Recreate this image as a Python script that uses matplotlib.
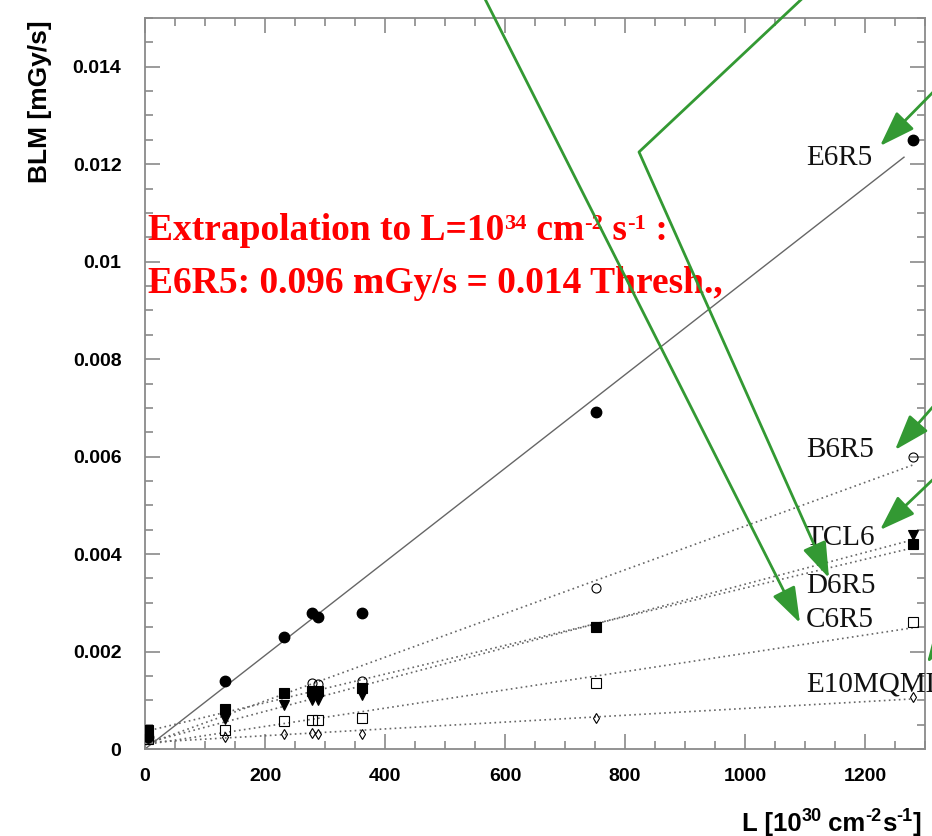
import numpy as np
import matplotlib
matplotlib.use("Agg")
import matplotlib.pyplot as plt
from matplotlib.patches import FancyArrowPatch
from matplotlib.path import Path
from matplotlib.ticker import MultipleLocator, FixedLocator, FixedFormatter

# ---- data: luminosity L [1e30 cm^-2 s^-1] and BLM dose rate [mGy/s] ----
lumi = [5, 133, 232, 279, 289, 361, 752, 1280]

e6r5 = [0.00025, 0.0014, 0.00229, 0.0028, 0.0027, 0.0028, 0.00692, 0.0125]
b6r5 = [0.0003, 0.0008, 0.00115, 0.00136, 0.00134, 0.0014, 0.0033, 0.0060]
d6r5 = [0.0004, 0.00082, 0.00115, 0.00118, 0.00118, 0.00125, 0.0025, 0.0042]
tcl6 = [0.0003, 0.00062, 0.0009, 0.0010, 0.0010, 0.0011, 0.0025, 0.0044]
c6r5 = [0.0002, 0.00038, 0.00057, 0.0006, 0.0006, 0.00064, 0.00136, 0.0026]
e10mqml = [0.0002, 0.00025, 0.0003, 0.00033, 0.00031, 0.0003, 0.00063, 0.00107]

# extrapolation of E6R5 to L = 1e34 cm^-2 s^-1 (= 1e4 in plot units)
L_extrap = 10000
e6r5_extrap = 0.096
e6r5_fit_end = 1265

x_ticks = [0, 200, 400, 600, 800, 1000, 1200]
y_ticks = [0, 0.002, 0.004, 0.006, 0.008, 0.010, 0.012, 0.014]
y_tick_labels = ["0", "0.002", "0.004", "0.006", "0.008", "0.01", "0.012", "0.014"]

W, H = 932, 836
fig = plt.figure(figsize=(W / 100, H / 100), dpi=100)
ax = fig.add_axes([145 / W, 1 - 749 / H, 780 / W, 731 / H])
renderer = fig.canvas.get_renderer()

frame_col = "#8a8a8a"
line_col = "#666666"

# marker series: (values, marker, filled, size)
series = [
    (b6r5, "o", False, 6.5),
    (c6r5, "s", False, 6.5),
    (e10mqml, "d", False, 5.5),
    (d6r5, "s", True, 6.5),
    (tcl6, "v", True, 7),
]

x = np.array(lumi, dtype=float)

# dotted linear fits
for vals, m, filled, ms in series:
    p = np.polyfit(x, np.array(vals), 1)
    xf = np.array([0, x.max()])
    ax.plot(xf, np.polyval(p, xf), ls=(0, (1.0, 2.0)), lw=1.2, color=line_col, zorder=2)

# E6R5 fit through origin, slope fixed by the extrapolated value
xf = np.array([0, e6r5_fit_end])
ax.plot(xf, xf * e6r5_extrap / L_extrap, ls="-", lw=1.0, color=line_col, zorder=2)

for vals, m, filled, ms in series:
    ax.plot(x, vals, ls="none", marker=m, ms=ms,
            mfc="black" if filled else "none", mec="black",
            mew=0.8, zorder=3)
ax.plot(x, e6r5, ls="none", marker="o", ms=7.5, mfc="black", mec="black", zorder=4)

ax.set_xlim(0, 1300)
ax.set_ylim(0, 0.015)
ax.xaxis.set_major_locator(FixedLocator(x_ticks))
ax.xaxis.set_minor_locator(MultipleLocator(50))
ax.yaxis.set_major_locator(FixedLocator(y_ticks))
ax.yaxis.set_major_formatter(FixedFormatter(y_tick_labels))
ax.yaxis.set_minor_locator(MultipleLocator(0.0005))

for s in ax.spines.values():
    s.set_color(frame_col)
    s.set_linewidth(1.3)
ax.tick_params(which="both", direction="in", top=True, right=True,
               color=frame_col, width=1.2)
ax.tick_params(which="major", length=11)
ax.tick_params(which="minor", length=5.5)
ax.tick_params(axis="x", which="major", pad=14)
ax.tick_params(axis="y", which="major", pad=17)
for lab in ax.get_xticklabels() + ax.get_yticklabels():
    lab.set_fontfamily("Liberation Sans")
    lab.set_fontweight("bold")
    lab.set_fontsize(14)


def rich_text(x0, y_base, pieces, size, sup_scale, sup_rise, align="left", **kw):
    """Draw text with superscripts from (text, is_superscript) pieces.
    x0, y_base are in pixels measured from the top-left corner."""
    artists = []
    xcur = 0.0
    for txt, sup in pieces:
        fs = size * sup_scale if sup else size
        rise = sup_rise if sup else 0
        t = fig.text(0, 0, txt, fontsize=fs, ha="left", va="baseline", **kw)
        w = t.get_window_extent(renderer).width
        artists.append((t, xcur, rise))
        xcur += w
    start = x0 if align == "left" else x0 - xcur
    for t, off, rise in artists:
        t.set_position(((start + off) / W, 1 - (y_base - rise) / H))


# axis titles
fig.text(40 / W, 1 - 20 / H, "BLM [mGy/s]", rotation=90, ha="center", va="top",
         family="Liberation Sans", weight="bold", fontsize=19)
rich_text(921, 831,
          [("L [10", False), ("30", True), (" cm", False), ("-2", True),
           ("s", False), ("-1", True), ("]", False)],
          size=18.5, sup_scale=0.7, sup_rise=10, align="right",
          family="Liberation Sans", weight="bold", color="black")

# channel labels
labels = [("E6R5", 165), ("B6R5", 457), ("TCL6", 545), ("D6R5", 593),
          ("C6R5", 627), ("E10MQML", 692)]
for txt, yb in labels:
    fig.text(806 / W, 1 - yb / H, txt, ha="left", va="baseline",
             family="Liberation Serif", fontsize=21, color="#111111", zorder=6)

# extrapolation note
red = "#ff0000"
rich_text(148, 240,
          [("Extrapolation to L=10", False), ("34", True), (" cm", False),
           ("-2", True), (" s", False), ("-1", True), (" :", False)],
          size=27, sup_scale=0.6, sup_rise=11,
          family="Liberation Serif", weight="bold", color=red, zorder=6)
fig.text(148 / W, 1 - 293 / H,
         f"E6R5: {e6r5_extrap:.3f} mGy/s = 0.014 Thresh.,",
         ha="left", va="baseline", family="Liberation Serif", weight="bold",
         fontsize=27, color=red, zorder=6)

# green pointer arrows (figure pixel coordinates, y measured from top)
green = "#339933"
arrow_paths = [
    [(483, -5), (800, 623)],
    [(806, -5), (639, 152), (829, 578)],
    [(945, 80), (880, 146)],
    [(945, 393), (895, 450)],
    [(945, 468), (880, 530)],
    [(975, 590), (927, 663)],
]
for pts in arrow_paths:
    verts = [(px / W, 1 - py / H) for px, py in pts]
    codes = [Path.MOVETO] + [Path.LINETO] * (len(verts) - 1)
    arr = FancyArrowPatch(path=Path(verts, codes),
                          arrowstyle="-|>,head_length=1.1,head_width=0.38",
                          mutation_scale=20, color=green, lw=2.0,
                          transform=fig.transFigure, zorder=10)
    fig.add_artist(arr)

fig.savefig("out.png", dpi=100)
